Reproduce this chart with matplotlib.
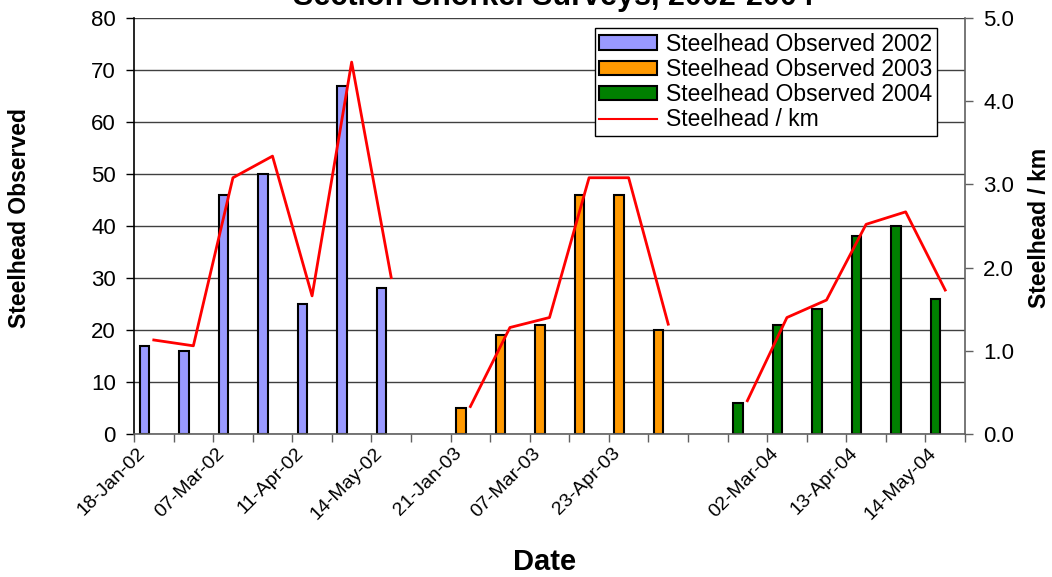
import numpy as np
import matplotlib
matplotlib.use("Agg")
import matplotlib.pyplot as plt
import matplotlib.transforms as mtransforms
from matplotlib.patches import Patch
from matplotlib.lines import Line2D

plt.rcParams['font.family'] = ['Liberation Sans', 'DejaVu Sans']

# categorias del eje x (21 fechas de muestreo, solo se rotulan las pares)
date_labels = ['18-Jan-02', '', '07-Mar-02', '', '11-Apr-02', '', '14-May-02', '',
               '21-Jan-03', '', '07-Mar-03', '', '23-Apr-03', '', '',
               '', '02-Mar-04', '', '13-Apr-04', '', '14-May-04']

# conteos de steelhead por año (None = sin dato en esa categoria)
obs_2002 = [17, 16, 46, 50, 25, 67, 28, None, None, None, None, None, None, None,
            None, None, None, None, None, None, None]
obs_2003 = [None, None, None, None, None, None, None, None, 5, 19, 21, 46, 46, 20,
            None, None, None, None, None, None, None]
obs_2004 = [None, None, None, None, None, None, None, None, None, None, None, None, None, None,
            None, 6, 21, 24, 38, 40, 26]

# steelhead por km (eje secundario)
per_km = [1.13, 1.06, 3.08, 3.34, 1.66, 4.47, 1.88, None,
          0.33, 1.28, 1.40, 3.08, 3.08, 1.32, None,
          0.40, 1.40, 1.61, 2.52, 2.67, 1.73]

colors = {'2002': '#9999FF', '2003': '#FF9900', '2004': '#008000'}

fig = plt.figure(figsize=(10.52, 5.77), dpi=100)
ax = fig.add_axes([134 / 1052, 1 - 434 / 577, (965 - 134) / 1052, (434 - 18) / 577])

x = np.arange(len(date_labels))
bar_w = 0.24
offset = -0.24

for year, vals in [('2002', obs_2002), ('2003', obs_2003), ('2004', obs_2004)]:
    v = np.array([np.nan if a is None else a for a in vals], dtype=float)
    ax.bar(x + offset, v, width=bar_w, color=colors[year], edgecolor='black',
           linewidth=1.5, zorder=2)

ax.set_xlim(-0.5, len(date_labels) - 0.5)
ax.set_ylim(0, 80)
ax.set_yticks(np.arange(0, 81, 10))
ax.set_axisbelow(True)
ax.grid(axis='y', color='#404040', linewidth=1.0, zorder=0)
ax.grid(axis='x', visible=False)

ax.spines['top'].set_visible(False)
ax.spines['right'].set_visible(False)
ax.spines['left'].set_color('black')
ax.spines['left'].set_linewidth(1.2)
ax.spines['bottom'].set_color('#606060')
ax.spines['bottom'].set_linewidth(1.2)

ax.tick_params(axis='y', direction='out', length=6, width=1, pad=7, labelsize=16)
ax.set_xticks(np.arange(-0.5, len(date_labels), 1.0), minor=True)
ax.tick_params(axis='x', which='minor', direction='out', length=6, width=1, color='#606060')
ax.set_xticks(x[::2])
ax.set_xticklabels(date_labels[::2], rotation=45, ha='right', va='center',
                   rotation_mode='anchor', fontsize=14)
ax.tick_params(axis='x', which='major', length=0, pad=12)
shift = mtransforms.ScaledTranslation(-8 / 72, 0, fig.dpi_scale_trans)
for lab in ax.get_xticklabels():
    lab.set_transform(lab.get_transform() + shift)

ax2 = ax.twinx()
km = np.array([np.nan if a is None else a for a in per_km], dtype=float)
ax2.plot(x, km, color='red', linewidth=2, zorder=3)
ax2.set_ylim(0, 5)
ax2.set_yticks(np.arange(0, 5.1, 1.0))
ax2.set_yticklabels(['%.1f' % t for t in np.arange(0, 5.1, 1.0)])
ax2.tick_params(axis='y', direction='out', length=6, width=1, pad=7, labelsize=16,
                color='#606060')
for s in ['top', 'left', 'bottom']:
    ax2.spines[s].set_visible(False)
ax2.spines['right'].set_color('#606060')
ax2.spines['right'].set_linewidth(1.2)

handles = [Patch(facecolor=colors['2002'], edgecolor='black', linewidth=1.5),
           Patch(facecolor=colors['2003'], edgecolor='black', linewidth=1.5),
           Patch(facecolor=colors['2004'], edgecolor='black', linewidth=1.5),
           Line2D([], [], color='red', linewidth=1.5)]
labels = ['Steelhead Observed 2002', 'Steelhead Observed 2003',
          'Steelhead Observed 2004', 'Steelhead / km']
leg = ax2.legend(handles, labels, loc='upper right', bbox_to_anchor=(0.966, 0.976),
                 borderaxespad=0, fontsize=16.5, frameon=True, fancybox=False,
                 edgecolor='black', framealpha=1, handlelength=2.5, handleheight=0.6,
                 labelspacing=0.1, handletextpad=0.4, borderpad=0.2)
leg.get_frame().set_linewidth(1.0)
leg.set_zorder(10)

fig.text(553 / 1052, 1 - 5 / 577, 'Section Snorkel Surveys, 2002-2004', ha='center',
         va='baseline', fontsize=22, fontweight='bold')
fig.text(20 / 1052, 1 - 218 / 577, 'Steelhead Observed', rotation=90, ha='center',
         va='center', fontsize=16.5, fontweight='bold')
fig.text(1040 / 1052, 1 - 228 / 577, 'Steelhead / km', rotation=90, ha='center',
         va='center', fontsize=16.5, fontweight='bold')
fig.text(545 / 1052, 1 - 562 / 577, 'Date', ha='center', va='center',
         fontsize=21, fontweight='bold')

fig.savefig('out.png', dpi=100)
